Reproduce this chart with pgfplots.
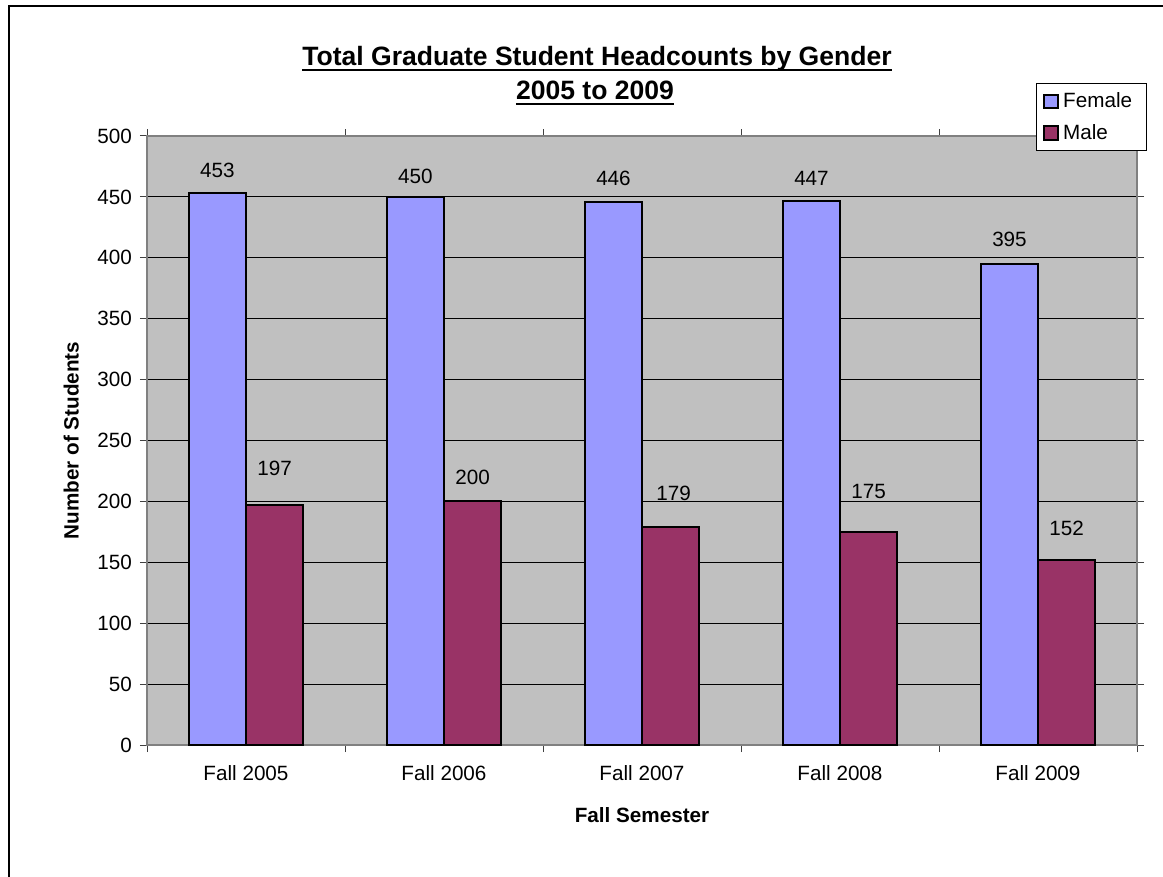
\documentclass[border=0pt]{standalone}
\usepackage{pgfplots}
\pgfplotsset{compat=1.18}
\usepackage{fontspec}
\setmainfont{Liberation Sans}
\definecolor{femalec}{HTML}{9999FF}
\definecolor{malec}{HTML}{993366}
\definecolor{plotbg}{HTML}{C0C0C0}
\definecolor{bordergray}{HTML}{808080}
\newcommand{\lf}{\fontsize{15.5}{18.6}\selectfont}
\begin{document}
\begin{tikzpicture}
\useasboundingbox (0,0) rectangle (872.25pt,657pt);
\draw[line width=1pt] (6.75pt,-2pt) -- (6.75pt,652.5pt) -- (875pt,652.5pt);
\begin{axis}[
  at={(110.25pt,98.25pt)}, anchor=south west,
  scale only axis, width=742.5pt, height=456.75pt,
  xmin=-0.5, xmax=4.5, ymin=0, ymax=500,
  xtick={0,1,2,3,4},
  xticklabels={Fall 2005,Fall 2006,Fall 2007,Fall 2008,Fall 2009},
  every major x tick/.style={draw=none},
  minor xtick={-0.5,0.5,1.5,2.5,3.5,4.5},
  ytick={0,50,...,500},
  tick align=outside, major tick length=5.25pt, minor tick length=5.25pt,
  tick style={black!75, line width=0.75pt},
  ymajorgrids, major grid style={black, line width=0.75pt},
  axis line style={bordergray, line width=1.5pt},
  axis background/.style={fill=plotbg},
  ticklabel style={font=\lf},
  xticklabel style={yshift=-6.75pt},
  yticklabel style={xshift=-2.5pt},
  /pgf/number format/assume math mode=true,
  xlabel={Fall Semester},
  xlabel style={font=\bfseries\lf, at={(axis description cs:0.5,-0.115)}, anchor=center},
  ylabel={Number of Students},
  ylabel style={font=\bfseries\lf, at={(axis description cs:-0.0765,0.5)}, anchor=center},
  legend style={at={(axis description cs:0.898,1.087)}, anchor=north west,
    draw=black, line width=0.75pt, fill=white, font=\lf,
    inner xsep=5pt, inner ysep=5.5pt, row sep=8pt, nodes={inner sep=1.5pt}},
  legend cell align=left,
  legend image code/.code={\draw[#1, line width=1.5pt] (0pt,-5pt) rectangle (10pt,5pt); \path (12pt,0pt);},
]
\addplot[ybar, bar width=0.288, bar shift=-0.144, fill=femalec, draw=black, line width=1.5pt]
  coordinates {(0,453) (1,450) (2,446) (3,447) (4,395)};
\addplot[ybar, bar width=0.288, bar shift=0.144, fill=malec, draw=black, line width=1.5pt]
  coordinates {(0,197) (1,200) (2,179) (3,175) (4,152)};
\legend{Female\rule{4pt}{0pt},Male}
\addplot[draw=none, mark=none, forget plot, nodes near coords, point meta=explicit symbolic,
  every node near coord/.append style={anchor=center, font=\lf, black}]
  table[meta=lab, row sep=\\] {
  x y lab\\
  -0.144 472.1 453\\
  0.856 467.2 450\\
  1.856 465.5 446\\
  2.856 465.5 447\\
  3.856 415.4 395\\
  0.144 227.4 197\\
  1.144 220.0 200\\
  2.160 206.9 179\\
  3.144 208.5 175\\
  4.144 178.2 152\\
};
\end{axis}
\node[anchor=base, inner sep=0pt, font=\bfseries\fontsize{19.9}{24}\selectfont] (t1) at (447.75pt,607.5pt) {Total Graduate Student Headcounts by Gender\ };
\draw[line width=2pt] ([yshift=-3pt]t1.base west) -- ([yshift=-3pt]t1.base east);
\node[anchor=base, inner sep=0pt, font=\bfseries\fontsize{19.9}{24}\selectfont] (t2) at (446.25pt,582pt) {2005 to 2009};
\draw[line width=2pt] ([yshift=-3pt]t2.base west) -- ([yshift=-3pt]t2.base east);
\end{tikzpicture}
\end{document}
